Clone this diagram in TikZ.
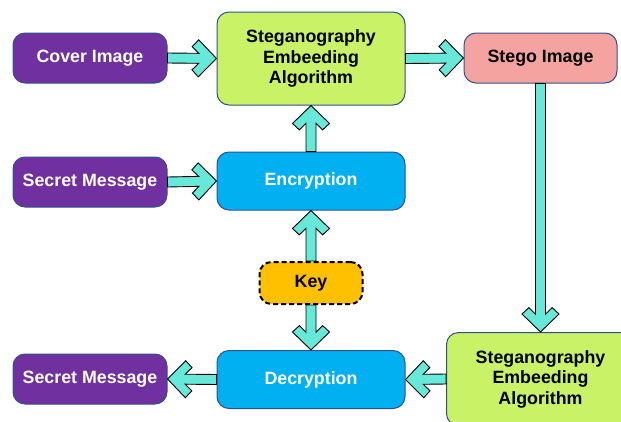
\documentclass[tikz,border=0pt]{standalone}
\usepackage{fontspec}
\setmainfont{Liberation Sans}
\usetikzlibrary{calc}

\definecolor{violetfill}{HTML}{7030A0}
\definecolor{limefill}{HTML}{C9F266}
\definecolor{skyfill}{HTML}{00B0F0}
\definecolor{rosefill}{HTML}{F5A3A0}
\definecolor{amberfill}{HTML}{FFC000}
\definecolor{edgeblue}{HTML}{2F528F}
\definecolor{aquaflow}{HTML}{66E9D9}

\tikzset{
  box/.style={draw=edgeblue, line width=1pt, rounded corners=12pt,
    align=center, inner sep=0pt,
    font=\bfseries\fontsize{17.8}{20.5}\selectfont},
  sourcebox/.style={box, fill=violetfill, text=white,
    minimum width=154pt, minimum height=50pt},
  algobox/.style={box, fill=limefill, text=black,
    minimum width=188pt, minimum height=93pt},
  cryptbox/.style={box, fill=skyfill, text=white,
    minimum width=188pt, minimum height=58pt},
  stegobox/.style={box, fill=rosefill, text=black,
    minimum width=153pt, minimum height=50pt},
  keybox/.style={box, draw=black, line width=2pt, dash pattern=on 5pt off 3pt,
    fill=amberfill, text=black, minimum width=103pt, minimum height=42pt},
  fatshape/.style={fill=aquaflow, draw=black, line width=0.9pt, line join=miter}
}

% Block arrow with a wide shaft and an open chevron head, from #1 to #2
\newcommand\fatarrow[2]{%
  \draw[fatshape] let \p1=(#1), \p2=(#2),
    \n1={veclen(\x2-\x1,\y2-\y1)}, \n2={atan2(\y2-\y1,\x2-\x1)} in
    {[shift={(\p1)}, rotate=\n2]
     (0pt,5pt) -- ({\n1-17.7pt},5pt) -- ({\n1-24.4pt},11.6pt) -- ({\n1-18pt},18.5pt)
     -- ({\n1-0pt},0pt) -- ({\n1-18pt},-18.5pt) -- ({\n1-24.4pt},-11.6pt)
     -- ({\n1-17.7pt},-5pt) -- (0pt,-5pt) -- cycle};
}

\begin{document}
\begin{tikzpicture}[x=1pt,y=-1pt]
\useasboundingbox (0,0) rectangle (621,421);

% blocks
\node[sourcebox] (cover)   at (90,58)    {Cover Image};
\node[sourcebox] (secretA) at (90,182)   {Secret Message};
\node[sourcebox] (secretB) at (90,379)   {Secret Message};
\node[algobox]   (embed)   at (311,58.5) {Steganography\\Embeeding\\Algorithm};
\node[cryptbox]  (encrypt) at (311,181)  {Encryption};
\node[keybox]    (key)     at (311,283)  {Key};
\node[cryptbox]  (decrypt) at (311,379.5){Decryption};
\node[stegobox]  (stego)   at (540.5,58) {Stego Image};
\node[algobox]   (extract) at (540.5,379){Steganography\\Embeeding\\Algorithm};

% flows
\fatarrow{cover.east}{embed.west}
\fatarrow{embed.east}{stego.west}
\fatarrow{stego.south}{extract.north}
\fatarrow{secretA.east}{encrypt.west}
\fatarrow{encrypt.north}{embed.south}
\fatarrow{key.north}{encrypt.south}
\fatarrow{key.south}{decrypt.north}
\fatarrow{extract.west}{decrypt.east}
\fatarrow{decrypt.west}{secretB.east}
\end{tikzpicture}
\end{document}
